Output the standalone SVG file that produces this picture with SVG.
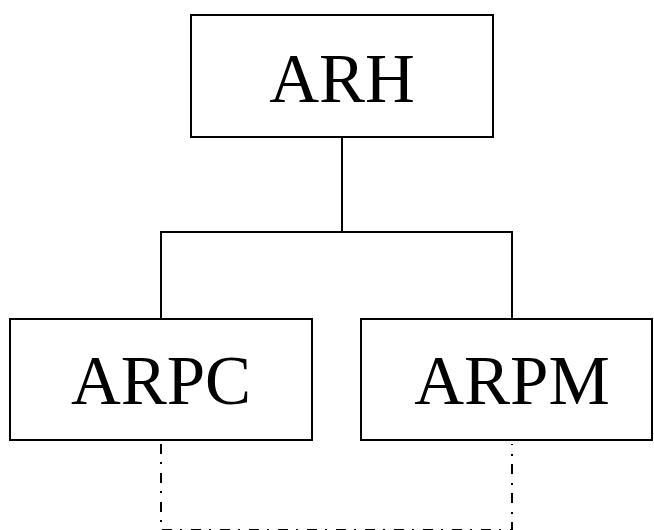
<svg xmlns="http://www.w3.org/2000/svg" width="654" height="530" viewBox="0 0 654 530">
<style>
.box{fill:#fff;stroke:#000;stroke-width:2}
.lbl{font-family:"Liberation Serif","Times New Roman",serif;font-size:69px;fill:#000;text-anchor:middle}
.solid{fill:none;stroke:#000;stroke-width:2}
.dd{fill:none;stroke:#000;stroke-width:2;stroke-dasharray:10 8 2 9}
</style>
<rect width="654" height="530" fill="#fff"/>
<g id="connectors">
<polyline class="solid" points="342,137 342,232"/>
<polyline class="solid" points="161,319 161,232 512,232 512,319"/>
<polyline class="dd" points="161,444 161,530 512,530 512,444"/>
</g>
<g id="ARH">
<rect class="box" x="191" y="15" width="302" height="122"/>
<text class="lbl" x="342" y="102">ARH</text>
</g>
<g id="ARPC">
<rect class="box" x="10" y="319" width="302" height="121"/>
<text class="lbl" x="161" y="404">ARPC</text>
</g>
<g id="ARPM">
<rect class="box" x="361" y="319" width="291" height="121"/>
<text class="lbl" x="512" y="404">ARPM</text>
</g>
</svg>
